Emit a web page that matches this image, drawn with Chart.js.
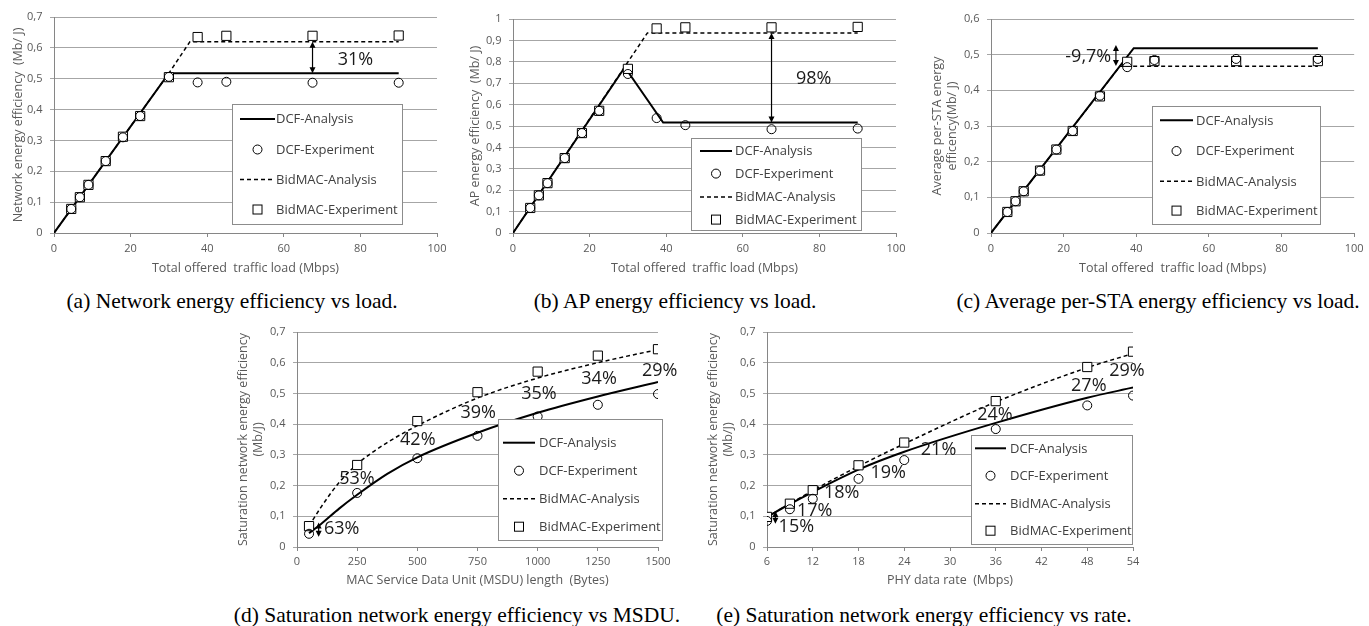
<!DOCTYPE html>
<html lang="en">
<head>
<meta charset="UTF-8">
<title>Energy efficiency: DCF vs BidMAC</title>
<script src="https://cdn.jsdelivr.net/npm/chart.js"></script>
<style>
    body {
        margin: 0;
        background: #fff;
        width: 1369px;
        height: 626px;
        position: relative;
        overflow: hidden;
    }
    canvas { position: absolute; }
    .cap {
        position: absolute;
        font-family: 'Liberation Serif', 'Times New Roman', serif;
        font-size: 21.5px;
        line-height: 24px;
        color: #000;
        white-space: nowrap;
        transform: translateX(-50%);
    }
</style>
</head>
<body>
<canvas id="pa"></canvas>
<canvas id="pb"></canvas>
<canvas id="pc"></canvas>
<canvas id="pd"></canvas>
<canvas id="pe"></canvas>
<div class="cap" style="left:232px;top:289px">(a) Network energy efficiency vs load.</div>
<div class="cap" style="left:675px;top:289px">(b) AP energy efficiency vs load.</div>
<div class="cap" style="left:1158px;top:289px">(c) Average per-STA energy efficiency vs load.</div>
<div class="cap" style="left:457px;top:603px">(d) Saturation network energy efficiency vs MSDU.</div>
<div class="cap" style="left:924px;top:603px">(e) Saturation network energy efficiency vs rate.</div>

<script>
    // ---- data ----
    const loadX = [4.5, 6.75, 9, 13.5, 18, 22.5, 30, 37.5, 45, 67.5, 90];

    // (a) network energy efficiency
    const aDcfExp = [0.078, 0.116, 0.156, 0.233, 0.31, 0.379, 0.506, 0.488, 0.49, 0.487, 0.487];
    const aBidExp = [0.078, 0.116, 0.156, 0.233, 0.312, 0.379, 0.505, 0.635, 0.639, 0.639, 0.64];
    const aDcfAnaX = [0, 30, 90];
    const aDcfAna = [0, 0.518, 0.518];
    const aBidAnaX = [0, 30, 35.5, 90];
    const aBidAna = [0, 0.518, 0.62, 0.62];

    // (b) AP energy efficiency
    const bDcfExp = [0.117, 0.176, 0.233, 0.35, 0.467, 0.571, 0.743, 0.537, 0.504, 0.485, 0.488];
    const bBidExp = [0.117, 0.176, 0.233, 0.35, 0.467, 0.571, 0.767, 0.956, 0.961, 0.961, 0.963];
    const bDcfAnaX = [0, 29.2, 39.2, 90];
    const bDcfAna = [0, 0.775, 0.516, 0.516];
    const bBidAnaX = [0, 35.1, 90];
    const bBidAna = [0, 0.935, 0.935];

    // (c) average per-STA energy efficiency
    const cDcfExp = [0.059, 0.089, 0.117, 0.175, 0.234, 0.286, 0.385, 0.465, 0.485, 0.488, 0.488];
    const cBidExp = [0.059, 0.089, 0.117, 0.175, 0.234, 0.286, 0.383, 0.48, 0.482, 0.482, 0.482];
    const cDcfAnaX = [0, 39.3, 90];
    const cDcfAna = [0, 0.518, 0.518];
    const cBidAnaX = [0, 35.5, 90];
    const cBidAna = [0, 0.4675, 0.4675];

    // (d) saturation efficiency vs MSDU
    const msduX = [50, 250, 500, 750, 1000, 1250, 1500];
    const dDcfExp = [0.043, 0.176, 0.289, 0.362, 0.425, 0.463, 0.498];
    const dBidExp = [0.068, 0.267, 0.41, 0.504, 0.571, 0.623, 0.644];
    const dAnaX = [50, 100, 175, 250, 375, 500, 750, 1000, 1250, 1500];
    const dDcfAna = [0.045, 0.075, 0.125, 0.17, 0.238, 0.292, 0.372, 0.437, 0.49, 0.537];
    const dBidAna = [0.068, 0.13, 0.21, 0.27, 0.34, 0.395, 0.485, 0.55, 0.6, 0.643];
    const dPctText = ['63%', '53%', '42%', '39%', '35%', '34%', '29%'];
    const dPctX = [186, 249, 502, 753, 1005, 1255, 1507];
    const dPctY = [0.06, 0.222, 0.349, 0.436, 0.499, 0.546, 0.572];

    // (e) saturation efficiency vs PHY rate
    const rateX = [6, 9, 12, 18, 24, 36, 48, 54];
    const eDcfExp = [0.085, 0.123, 0.157, 0.222, 0.283, 0.384, 0.461, 0.493];
    const eBidExp = [0.098, 0.141, 0.185, 0.266, 0.34, 0.475, 0.586, 0.636];
    const eDcfAna = [0.098, 0.14, 0.179, 0.252, 0.31, 0.404, 0.486, 0.519];
    const eBidAna = [0.098, 0.141, 0.184, 0.263, 0.336, 0.472, 0.584, 0.63];
    const ePctText = ['15%', '17%', '18%', '19%', '21%', '24%', '27%', '29%'];
    const ePctX = [9.85, 12.26, 15.8, 21.9, 28.5, 35.9, 48.2, 53.2];
    const ePctY = [0.065, 0.119, 0.176, 0.241, 0.315, 0.431, 0.526, 0.572];

    const legendLabels = ['DCF-Analysis', 'DCF-Experiment', 'BidMAC-Analysis', 'BidMAC-Experiment'];

    const FONT = "'Open Sans', 'DejaVu Sans', sans-serif";
    const TXT = '#595959';

    function pts(xs, ys) {
        return xs.map((x, i) => ({x: x, y: ys[i]}));
    }

    function fmtY(v) {
        const r = Math.round(v * 10) / 10;
        if (Number.isInteger(r)) return String(r);
        return r.toFixed(1).replace('.', ',');
    }

    function fmtX(v) {
        return String(Math.round(v));
    }

    const panels = [
        {
            id: 'pa', box: [0, 0, 460, 282], yW: 54, xH: 49, padT: 17, padR: 23,
            xMin: 0, xMax: 100, xStep: 20, yMax: 0.7, tickPad: 5.4, xTitlePad: 6.5, yTitlePad: 10.5,
            xTitle: 'Total offered  traffic load (Mbps)', yTitle: 'Network energy efficiency  (Mb/ J)',
            expX: loadX, dcfExp: aDcfExp, bidExp: aBidExp,
            dcfAnaX: aDcfAnaX, dcfAna: aDcfAna, bidAnaX: aBidAnaX, bidAna: aBidAna, smooth: false,
            arrows: [[67.5, 0.62, 0.518]],
            pct: [['31%', 78.7, 0.562, 'center']],
            legend: {x: 232, y: 104, w: 170, h: 120, s: 8, len: 35, t: 44, rows: [15, 45.5, 75.5, 105.5]}
        },
        {
            id: 'pb', box: [458, 0, 459, 282], yW: 55, xH: 49, padT: 19, padR: 21,
            xMin: 0, xMax: 100, xStep: 20, yMax: 1, tickPad: 5.4, xTitlePad: 6.5, yTitlePad: 9.5,
            xTitle: 'Total offered  traffic load (Mbps)', yTitle: 'AP energy efficiency  (Mb/ J)',
            expX: loadX, dcfExp: bDcfExp, bidExp: bBidExp,
            dcfAnaX: bDcfAnaX, dcfAna: bDcfAna, bidAnaX: bBidAnaX, bidAna: bBidAna, smooth: false,
            arrows: [[67.5, 0.935, 0.516]],
            pct: [['98%', 78.5, 0.72, 'center']],
            legend: {x: 691, y: 138, w: 170, h: 92, s: 9, len: 32, t: 44, rows: [13, 35.6, 59, 81.6]}
        },
        {
            id: 'pc', box: [920, 0, 449, 282], yW: 71, xH: 49, padT: 19, padR: 12,
            xMin: 0, xMax: 100, xStep: 20, yMax: 0.6, tickPad: 5.4, xTitlePad: 6.5, yTitlePad: 9.5,
            xTitle: 'Total offered  traffic load (Mbps)', yTitle: ['Average per-STA energy', 'efficency(Mb/ J)'],
            expX: loadX, dcfExp: cDcfExp, bidExp: cBidExp,
            dcfAnaX: cDcfAnaX, dcfAna: cDcfAna, bidAnaX: cBidAnaX, bidAna: cBidAna, smooth: false,
            arrows: [[34.4, 0.527, 0.468]],
            pct: [['-9,7%', 33.1, 0.494, 'right']],
            legend: {x: 1152, y: 106, w: 168, h: 118, s: 8, len: 33, t: 44, rows: [14.3, 45, 75.3, 104.6]}
        },
        {
            id: 'pd', box: [225, 315, 455, 282], yW: 72, xH: 50, padT: 17, padR: 22,
            xMin: 0, xMax: 1500, xStep: 250, yMax: 0.7, tickPad: 4.1, xTitlePad: 8.8, yTitlePad: 10.5,
            xTitle: 'MAC Service Data Unit (MSDU) length  (Bytes)', yTitle: ['Saturation network energy efficiency', '(Mb/J)'],
            expX: msduX, dcfExp: dDcfExp, bidExp: dBidExp,
            dcfAnaX: dAnaX, dcfAna: dDcfAna, bidAnaX: dAnaX, bidAna: dBidAna, smooth: true,
            arrows: [[90, 0.08, 0.033]],
            pct: dPctText.map((t, i) => [t, dPctX[i], dPctY[i], 'center']),
            legend: {x: 498, y: 419, w: 164, h: 121, s: 5, len: 32, t: 41, rows: [23.7, 51.7, 79.7, 107.7]}
        },
        {
            id: 'pe', box: [695, 315, 465, 282], yW: 72, xH: 50, padT: 17, padR: 27,
            xMin: 6, xMax: 54, xStep: 6, yMax: 0.7, tickPad: 4.1, xTitlePad: 8.8, yTitlePad: 10.5,
            xTitle: 'PHY data rate  (Mbps)', yTitle: ['Saturation network energy efficiency', '(Mb/J)'],
            expX: rateX, dcfExp: eDcfExp, bidExp: eBidExp,
            dcfAnaX: rateX, dcfAna: eDcfAna, bidAnaX: rateX, bidAna: eBidAna, smooth: true,
            arrows: [[7.1, 0.117, 0.076]],
            pct: ePctText.map((t, i) => [t, ePctX[i], ePctY[i], 'center']),
            legend: {x: 971, y: 435, w: 161, h: 109, s: 4, len: 31, t: 39, rows: [13.3, 40.7, 68.7, 95.7]}
        }
    ];

    const panelById = {};

    function arrowHead(ctx, x, y, dir) {
        ctx.beginPath();
        ctx.moveTo(x, y);
        ctx.lineTo(x - 3, y - dir * 6);
        ctx.lineTo(x + 3, y - dir * 6);
        ctx.closePath();
        ctx.fill();
    }

    const overlay = {
        id: 'overlay',
        afterDatasetsDraw(chart) {
            const p = panelById[chart.canvas.id];
            if (!p) return;
            const ctx = chart.ctx;
            const xs = chart.scales.x, ys = chart.scales.y;
            ctx.save();

            // legend box
            const L = p.legend;
            const ox = p.box[0], oy = p.box[1];
            const lx = L.x - ox, ly = L.y - oy;
            ctx.fillStyle = '#fff';
            ctx.fillRect(lx, ly, L.w, L.h);
            ctx.strokeStyle = '#8c8c8c';
            ctx.lineWidth = 1;
            ctx.strokeRect(Math.round(lx) + 0.5, Math.round(ly) + 0.5, L.w, L.h);
            ctx.font = '13px ' + FONT;
            ctx.textBaseline = 'middle';
            ctx.textAlign = 'left';
            legendLabels.forEach((lab, i) => {
                const ry = ly + L.rows[i];
                const sx = lx + L.s, ex = sx + L.len, mx = (sx + ex) / 2;
                ctx.strokeStyle = '#000';
                if (i === 0 || i === 2) {
                    ctx.lineWidth = i === 0 ? 2 : 1.5;
                    ctx.setLineDash(i === 0 ? [] : [4, 3]);
                    ctx.beginPath();
                    ctx.moveTo(sx, ry);
                    ctx.lineTo(ex, ry);
                    ctx.stroke();
                    ctx.setLineDash([]);
                } else if (i === 1) {
                    ctx.lineWidth = 1;
                    ctx.beginPath();
                    ctx.arc(mx, ry, 4.5, 0, Math.PI * 2);
                    ctx.stroke();
                } else {
                    ctx.lineWidth = 1;
                    ctx.strokeRect(mx - 4.5, ry - 4.5, 9, 9);
                }
                ctx.fillStyle = '#404040';
                ctx.fillText(lab, lx + L.t, ry + 0.5);
            });

            // arrows
            ctx.strokeStyle = '#000';
            ctx.fillStyle = '#000';
            ctx.lineWidth = 1.2;
            p.arrows.forEach(a => {
                const x = xs.getPixelForValue(a[0]);
                const y1 = ys.getPixelForValue(a[1]);
                const y2 = ys.getPixelForValue(a[2]);
                ctx.beginPath();
                ctx.moveTo(x, y1 + 4);
                ctx.lineTo(x, y2 - 4);
                ctx.stroke();
                arrowHead(ctx, x, y1, -1);
                arrowHead(ctx, x, y2, 1);
            });

            // percentage labels
            ctx.font = '18px ' + FONT;
            ctx.fillStyle = '#1a1a1a';
            ctx.textBaseline = 'middle';
            p.pct.forEach(l => {
                ctx.textAlign = l[3];
                ctx.fillText(l[0], xs.getPixelForValue(l[1]), ys.getPixelForValue(l[2]));
            });
            ctx.restore();
        }
    };

    function makePanel(p) {
        const cv = document.getElementById(p.id);
        cv.width = p.box[2];
        cv.height = p.box[3];
        cv.style.left = p.box[0] + 'px';
        cv.style.top = p.box[1] + 'px';
        panelById[p.id] = p;

        const lineOpts = {
            showLine: true, pointRadius: 0, borderColor: '#000', fill: false,
            cubicInterpolationMode: p.smooth ? 'monotone' : 'default', tension: 0
        };
        const datasets = [
            Object.assign({label: 'DCF-Analysis', data: pts(p.dcfAnaX, p.dcfAna), borderWidth: 2, order: 3}, lineOpts),
            Object.assign({label: 'BidMAC-Analysis', data: pts(p.bidAnaX, p.bidAna), borderWidth: 1.5, borderDash: [4, 3], order: 4}, lineOpts),
            {
                label: 'DCF-Experiment', data: pts(p.expX, p.dcfExp), showLine: false,
                pointStyle: 'circle', pointRadius: 4.5, pointBorderWidth: 1,
                pointBorderColor: '#000', pointBackgroundColor: 'rgba(255,255,255,0)', order: 1
            },
            {
                label: 'BidMAC-Experiment', data: pts(p.expX, p.bidExp), showLine: false,
                pointStyle: 'rect', pointRadius: 6.5, pointBorderWidth: 1,
                pointBorderColor: '#000', pointBackgroundColor: '#fff', order: 2
            }
        ];

        const axisFont = {family: FONT, size: 11};
        const titleFont = {family: FONT, size: 12.5};

        new Chart(cv, {
            type: 'scatter',
            data: {datasets: datasets},
            plugins: [overlay],
            options: {
                responsive: false,
                animation: false,
                devicePixelRatio: 1,
                layout: {padding: {top: p.padT, right: p.padR, left: 0, bottom: 0}},
                plugins: {legend: {display: false}, tooltip: {enabled: false}},
                scales: {
                    x: {
                        type: 'linear', min: p.xMin, max: p.xMax,
                        ticks: {stepSize: p.xStep, callback: fmtX, color: TXT, font: axisFont, padding: p.tickPad, maxRotation: 0, autoSkip: false},
                        grid: {drawOnChartArea: false, drawTicks: true, tickLength: 4, color: '#868686'},
                        border: {color: '#868686', width: 1},
                        title: {display: true, text: p.xTitle, color: TXT, font: titleFont, padding: {top: 0, bottom: p.xTitlePad}},
                        afterFit: s => { s.height = p.xH; }
                    },
                    y: {
                        type: 'linear', min: 0, max: p.yMax,
                        ticks: {stepSize: 0.1, callback: fmtY, color: TXT, font: axisFont, padding: 7.5},
                        grid: {color: '#a6a6a6', tickLength: 4, lineWidth: 1},
                        border: {color: '#868686', width: 1},
                        title: {display: true, text: p.yTitle, color: TXT, font: titleFont, padding: {top: p.yTitlePad, bottom: 0}},
                        afterFit: s => { s.width = p.yW; }
                    }
                }
            }
        });
    }

    panels.forEach(makePanel);
</script>
</body>
</html>
